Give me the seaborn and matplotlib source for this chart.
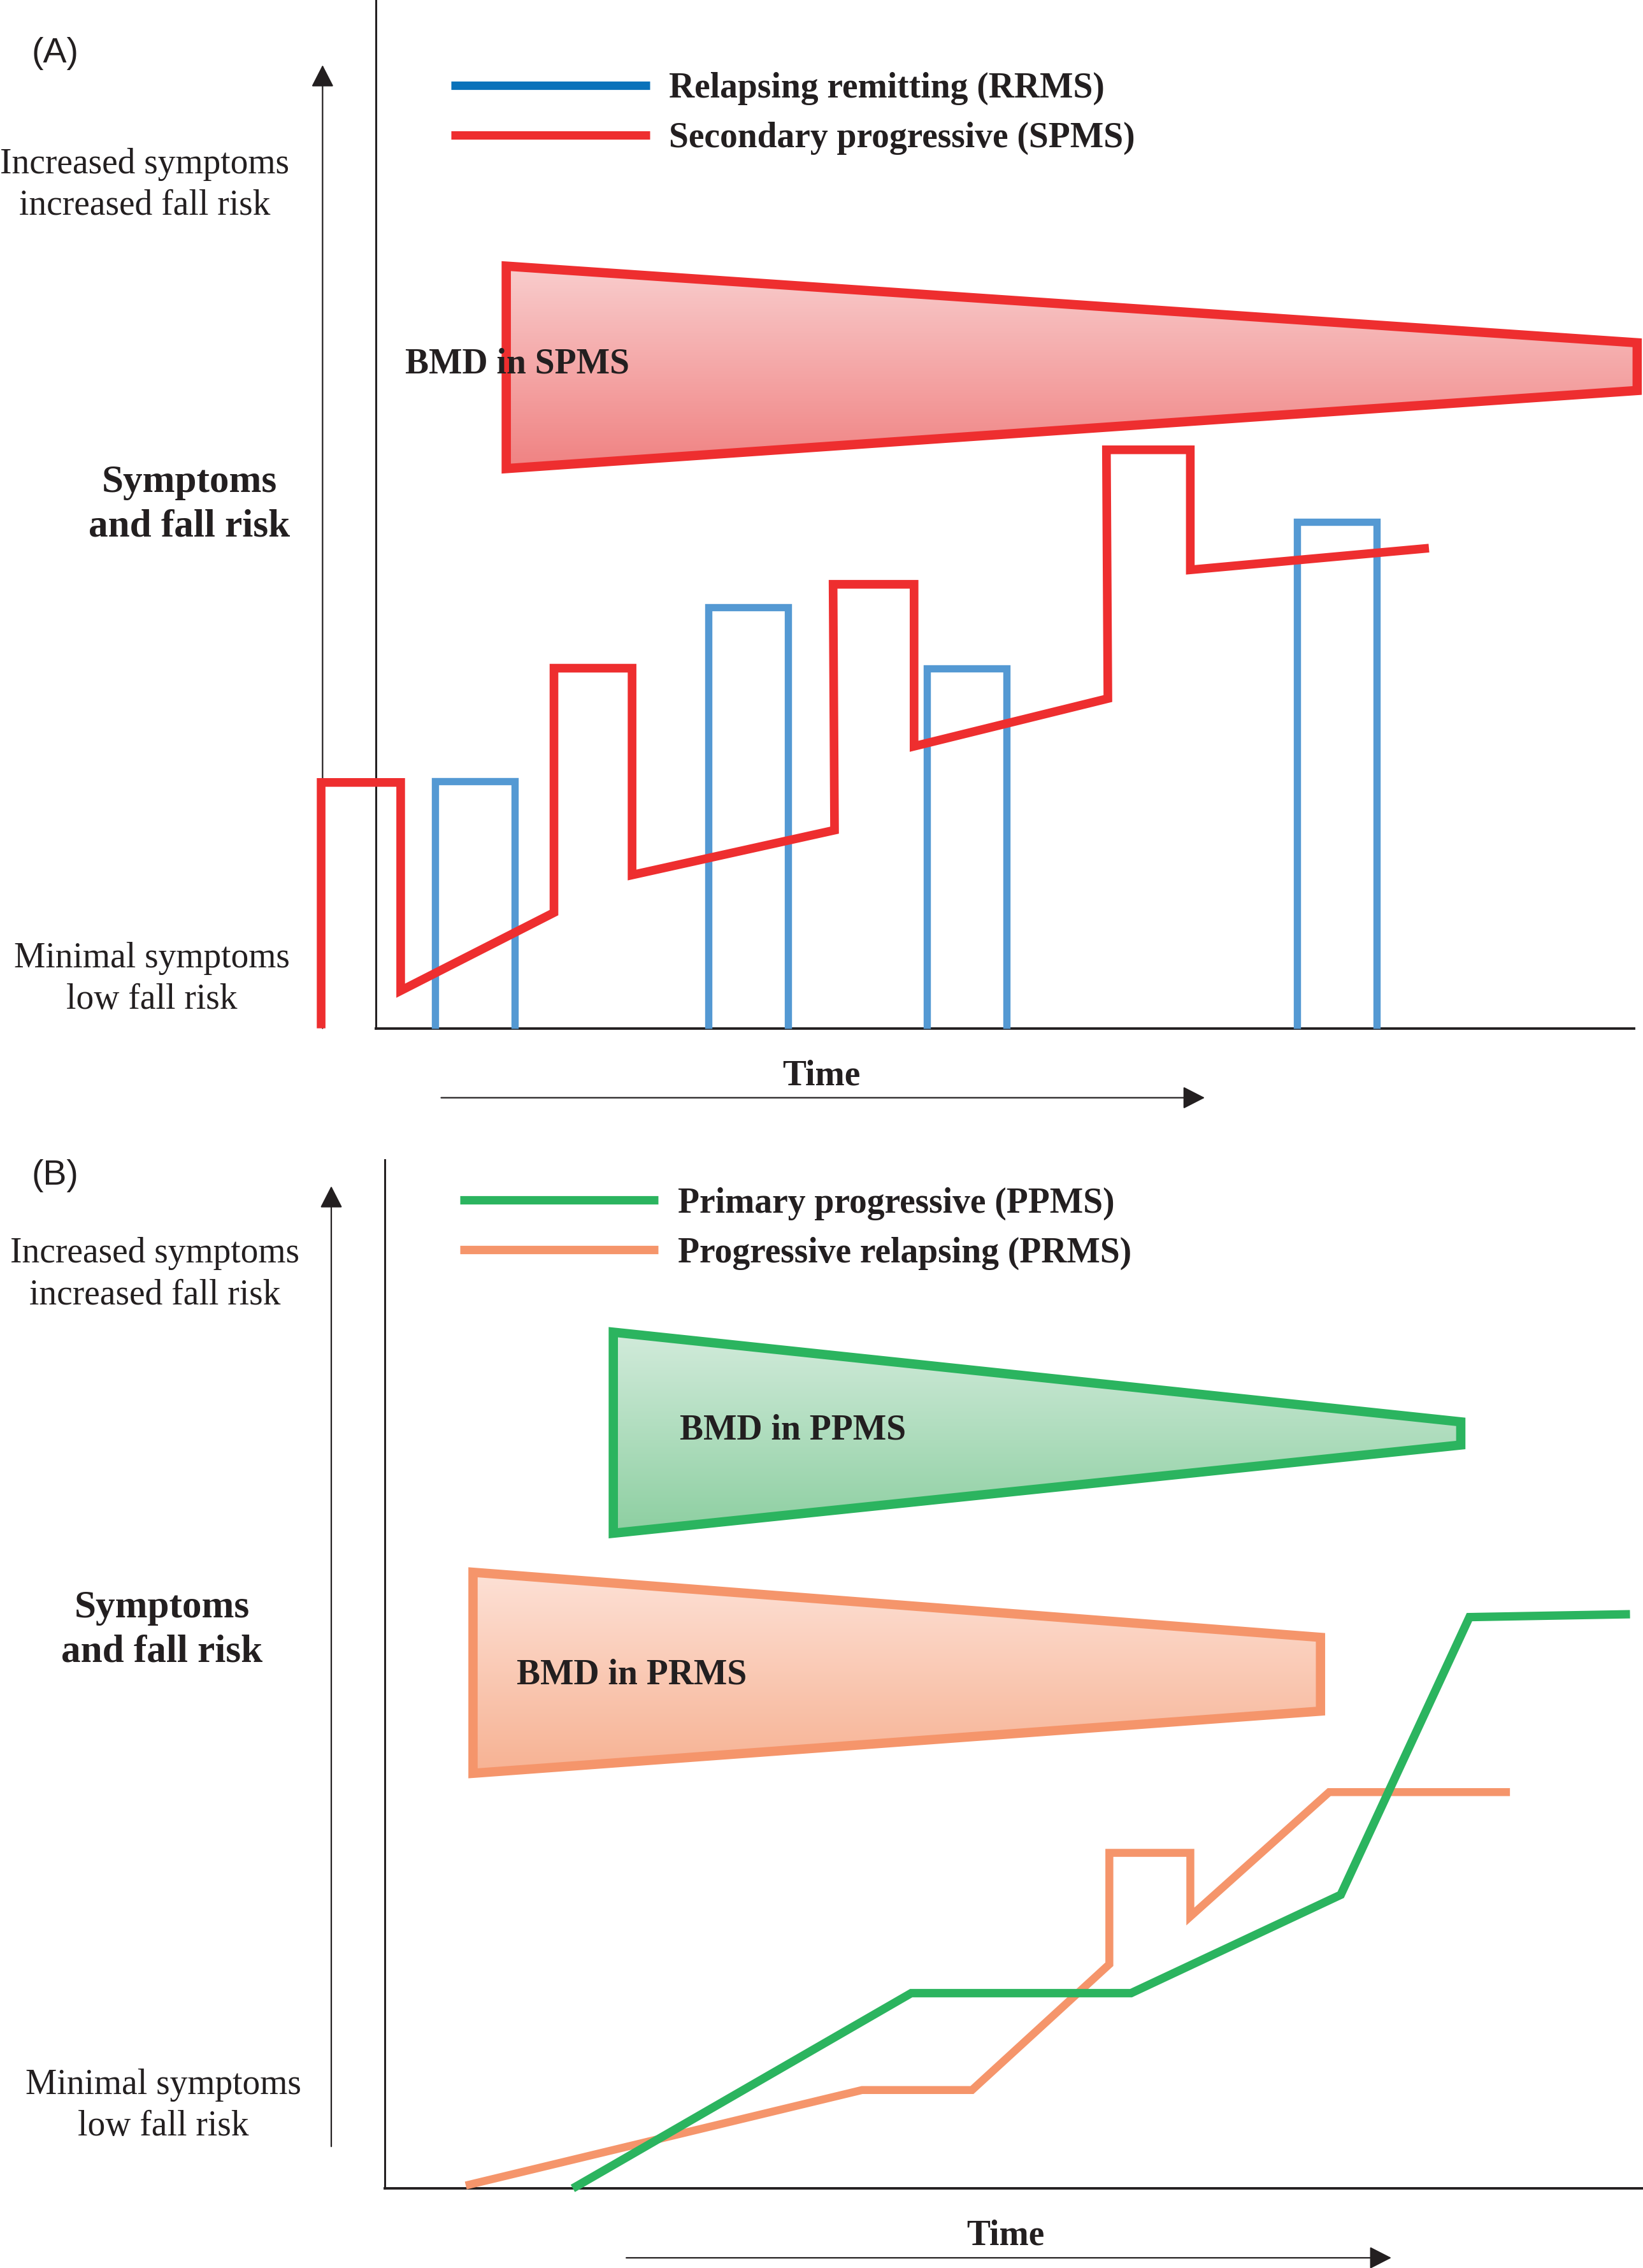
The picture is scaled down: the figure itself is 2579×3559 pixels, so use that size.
import numpy as np
import pandas as pd
import matplotlib
matplotlib.use("Agg")
import matplotlib.pyplot as plt
from matplotlib.colors import LinearSegmentedColormap
from matplotlib.lines import Line2D
from matplotlib.patches import Polygon
import seaborn as sns

# ---- panel A: time (x) vs symptom level (y), arbitrary schematic units ----
spms_t = [-38, -38, 17, 17, 123, 123, 177, 177, 317, 316, 372, 372, 506, 505, 563, 563, 728]
spms_level = [0, 170, 170, 26, 80, 249, 249, 106, 137, 307, 307, 195, 228, 400, 400, 317, 332]

rrms_start = [41, 230, 381, 637]
rrms_end = [96, 285, 436, 692]
rrms_peak = [171, 291, 249, 350]

spms_bmd_t = [90, 872]
spms_bmd_top = [527, 474]
spms_bmd_bottom = [387, 441]

# ---- panel B ----
ppms_t = [130, 364, 516, 661, 750, 861]
ppms_level = [0, 135, 135, 203, 395, 397]

prms_t = [56, 330, 406, 501, 501, 557, 557, 653, 778]
prms_level = [2, 68, 68, 155, 232, 232, 188, 274, 274]

ppms_bmd_t = [158, 744]
ppms_bmd_top = [592, 530]
ppms_bmd_bottom = [453, 514]

prms_bmd_t = [61, 647]
prms_bmd_top = [426, 381]
prms_bmd_bottom = [287, 330]

legend_a = ["Relapsing remitting (RRMS)", "Secondary progressive (SPMS)"]
legend_b = ["Primary progressive (PPMS)", "Progressive relapsing (PRMS)"]

INK = "#231f20"
RED = "#ee2e2f"
BLUE = "#5499d3"
BLUE_KEY = "#0a72ba"
GREEN = "#2bb45f"
ORANGE = "#f5956b"

sns.set_theme(style="white")
plt.rcParams["font.family"] = ["Liberation Serif", "DejaVu Serif"]
plt.rcParams["text.color"] = INK

fig = plt.figure(figsize=(25.79, 35.59), dpi=100)
ax_a = fig.add_axes([0.2289, 0.5466, 0.7658, 0.4534])
ax_b = fig.add_axes([0.2342, 0.0351, 0.7658, 0.4534])


def setup(ax):
    ax.set_xlim(0, 870)
    ax.set_ylim(0, 711)
    ax.set_xticks([])
    ax.set_yticks([])
    for s in ["top", "right"]:
        ax.spines[s].set_visible(False)
    for s in ["left", "bottom"]:
        ax.spines[s].set_color(INK)
    ax.spines["left"].set_linewidth(2.2)
    ax.spines["bottom"].set_linewidth(2.8)
    ax.set_facecolor("white")


def wedge(ax, t, top, bottom, edge, c_top, c_bottom):
    verts = [(t[0], top[0]), (t[1], top[1]), (t[1], bottom[1]), (t[0], bottom[0])]
    patch = Polygon(verts, closed=True, fill=False, edgecolor=edge, lw=10.5,
                    joinstyle="miter", zorder=3, clip_on=False)
    ax.add_patch(patch)
    cmap = LinearSegmentedColormap.from_list("g", [c_bottom, c_top])
    grad = np.linspace(0, 1, 256).reshape(-1, 1)
    im = ax.imshow(grad, cmap=cmap, aspect="auto", origin="lower",
                   extent=[t[0], t[1], min(bottom), max(top)], zorder=2)
    im.set_clip_path(patch)


def side_labels(ax, y_high, y_mid, y_low, x_high, x_mid, x_low, tag, tag_xy, arrow_y):
    ax.text(x_high, y_high, "Increased symptoms\nincreased fall risk", ha="center",
            va="center", fontsize=40, linespacing=1.32)
    ax.text(x_mid, y_mid, "Symptoms\nand fall risk", ha="center", va="center",
            fontsize=44, fontweight="bold", linespacing=1.32)
    ax.text(x_low, y_low, "Minimal symptoms\nlow fall risk", ha="center",
            va="center", fontsize=40, linespacing=1.32)
    ax.text(tag_xy[0], tag_xy[1], tag, ha="center", va="center", fontsize=40,
            family="Liberation Sans")
    ax.annotate("", xy=(-37, arrow_y[1]), xytext=(-37, arrow_y[0]),
                arrowprops=dict(arrowstyle="-|>,head_length=0.43,head_width=0.22",
                                mutation_scale=50, lw=1.6, color=INK,
                                shrinkA=0, shrinkB=0),
                annotation_clip=False)


def time_axis(ax, x_text, x0, x1):
    ax.text(x_text, -33, "Time", ha="center", va="center", fontsize=40,
            fontweight="bold")
    ax.annotate("", xy=(x1, -48), xytext=(x0, -48),
                arrowprops=dict(arrowstyle="-|>,head_length=0.43,head_width=0.22",
                                mutation_scale=50, lw=1.6, color=INK,
                                shrinkA=0, shrinkB=0),
                annotation_clip=False)


def finish_lines(ax, widths):
    for ln, w in zip(ax.get_lines(), widths):
        ln.set_linewidth(w)
        ln.set_solid_joinstyle("miter")
        ln.set_solid_capstyle("butt")
        ln.set_clip_on(False)
        ln.set_zorder(4)
    ax.set_xlabel("")
    ax.set_ylabel("")
    ax.set_xlim(0, 870)
    ax.set_ylim(0, 711)


# ================= panel A =================
setup(ax_a)
wedge(ax_a, spms_bmd_t, spms_bmd_top, spms_bmd_bottom, RED, "#f9cdcd", "#f08282")
ax_a.text(20, 459, "BMD in SPMS", ha="left", va="center", fontsize=40,
          fontweight="bold", zorder=5)

rows = []
for i, (s, e, p) in enumerate(zip(rrms_start, rrms_end, rrms_peak)):
    for t, y in [(s, 0), (s, p), (e, p), (e, 0)]:
        rows.append({"bar": i, "t": t, "level": y})
rrms_df = pd.DataFrame(rows)
sns.lineplot(data=rrms_df, x="t", y="level", units="bar", estimator=None,
             sort=False, color=BLUE, ax=ax_a, legend=False)
spms_df = pd.DataFrame({"t": spms_t, "level": spms_level})
sns.lineplot(data=spms_df, x="t", y="level", estimator=None, sort=False,
             color=RED, ax=ax_a, legend=False)
finish_lines(ax_a, [8.2] * 4 + [9.8])

handles = [Line2D([], [], color=BLUE_KEY, lw=9.5, solid_capstyle="butt"),
           Line2D([], [], color=RED, lw=9.5, solid_capstyle="butt")]
ax_a.legend(handles, legend_a, loc="upper left", bbox_to_anchor=(0.0598, 0.93),
            frameon=False, prop={"weight": "bold", "size": 40},
            handlelength=5.6, handletextpad=0.55, labelspacing=0.47,
            borderpad=0, borderaxespad=0)

side_labels(ax_a, 583, 362, 34, -160, -129, -155, "(A)", (-222, 674), (0, 666))
time_axis(ax_a, 308, 45, 573)

# ================= panel B =================
setup(ax_b)
wedge(ax_b, ppms_bmd_t, ppms_bmd_top, ppms_bmd_bottom, GREEN, "#d2ebdb", "#8dcfa1")
wedge(ax_b, prms_bmd_t, prms_bmd_top, prms_bmd_bottom, ORANGE, "#fde1d6", "#f7b293")
ax_b.text(204, 524, "BMD in PPMS", ha="left", va="center", fontsize=40,
          fontweight="bold", zorder=5)
ax_b.text(91, 355, "BMD in PRMS", ha="left", va="center", fontsize=40,
          fontweight="bold", zorder=5)

prms_df = pd.DataFrame({"t": prms_t, "level": prms_level})
sns.lineplot(data=prms_df, x="t", y="level", estimator=None, sort=False,
             color=ORANGE, ax=ax_b, legend=False)
ppms_df = pd.DataFrame({"t": ppms_t, "level": ppms_level})
sns.lineplot(data=ppms_df, x="t", y="level", estimator=None, sort=False,
             color=GREEN, ax=ax_b, legend=False)
finish_lines(ax_b, [9.0, 9.5])

handles = [Line2D([], [], color=GREEN, lw=9.5, solid_capstyle="butt"),
           Line2D([], [], color=ORANGE, lw=9.5, solid_capstyle="butt")]
ax_b.legend(handles, legend_b, loc="upper left", bbox_to_anchor=(0.0598, 0.974),
            frameon=False, prop={"weight": "bold", "size": 40},
            handlelength=5.6, handletextpad=0.55, labelspacing=0.47,
            borderpad=0, borderaxespad=0)

side_labels(ax_b, 632, 386, 57, -159, -154, -153, "(B)", (-228, 700), (29, 693))
time_axis(ax_b, 429, 167, 696)

fig.savefig("out.png", dpi=100, facecolor="white")
